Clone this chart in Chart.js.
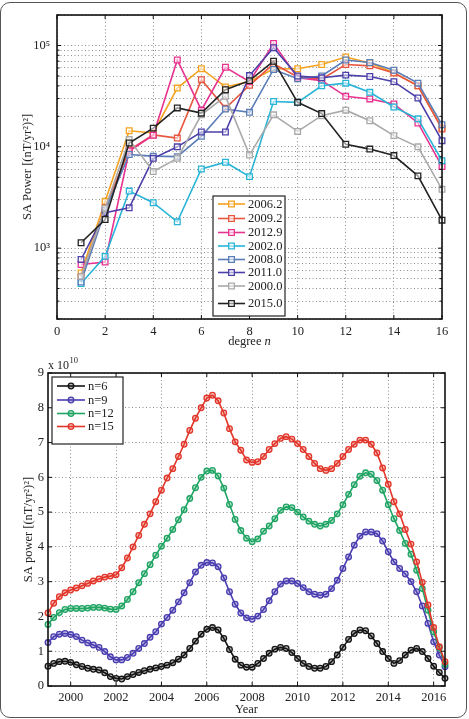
<!DOCTYPE html>
<html>
<head>
<meta charset="utf-8">
<script src="https://cdn.jsdelivr.net/npm/chart.js@4.4.1/dist/chart.umd.min.js"></script>
<style>
body { margin: 0; background: #fff; }
#wrap { position: relative; width: 469px; height: 719px; overflow: hidden; }
#frame { position: absolute; left: 0; top: 2px; width: 465px; height: 714px; border: 1.3px solid #555; border-radius: 10px; pointer-events: none; }
canvas { position: absolute; left: 0; }
#top { top: 0; }
#bottom { top: 355px; }
</style>
</head>
<body>
<div id="wrap">
  <canvas id="top" width="469" height="355"></canvas>
  <canvas id="bottom" width="469" height="364"></canvas>
  <div id="frame"></div>
</div>
<script>
// ---- top panel: SA power per degree n (log scale) ----
const degrees = [1, 2, 3, 4, 5, 6, 7, 8, 9, 10, 11, 12, 13, 14, 15, 16];
const epochLabels = ['2006.2', '2009.2', '2012.9', '2002.0', '2008.0', '2011.0', '2000.0', '2015.0'];
const s2006_2 = [570, 2900, 14400, 13700, 38000, 59000, 39000, 44000, 59000, 59000, 65000, 77000, 67000, 54000, 40000, 15300];
const s2009_2 = [520, 2500, 9300, 13100, 12200, 46000, 24000, 40500, 66000, 49000, 46500, 65000, 63000, 53500, 40000, 15000];
const s2012_9 = [690, 730, 9100, 13000, 72000, 23000, 61000, 44000, 105000, 48000, 45000, 31500, 29700, 26500, 17200, 6400];
const s2002_0 = [448, 830, 3660, 2810, 1820, 6050, 7050, 5080, 28000, 27500, 40000, 42500, 34500, 24700, 18900, 7300];
const s2008_0 = [463, 2350, 8400, 8100, 8000, 12700, 23600, 21900, 58000, 47000, 50000, 72000, 68000, 57000, 42500, 16500];
const s2011_0 = [773, 2240, 2500, 7700, 10000, 14000, 14000, 50500, 95000, 50000, 48000, 51000, 49500, 44000, 30300, 11500];
const s2000_0 = [527, 2470, 11800, 5700, 7700, 20700, 31500, 8300, 20700, 14200, 20300, 23000, 18100, 12900, 10000, 3810];
const s2015_0 = [1130, 1920, 10900, 15300, 24200, 21500, 36600, 45000, 70000, 27500, 21300, 10600, 9500, 8200, 5170, 1890];
const xTicksTop = [0, 2, 4, 6, 8, 10, 12, 14, 16];
const yMajorTicks = [1000, 10000, 100000];
const yMajorLabels = ['10³', '10⁴', '10⁵'];

// ---- bottom panel: SA power vs time (units of 1e10) ----
const years = Array.from({ length: 71 }, (_, i) => 1999 + i * 0.25);
const n6 = [0.57, 0.65, 0.70, 0.71, 0.68, 0.61, 0.56, 0.51, 0.48, 0.46,
  0.38, 0.27, 0.22, 0.20, 0.27, 0.33, 0.39, 0.44, 0.48, 0.52,
  0.56, 0.60, 0.67, 0.77, 0.89, 1.08, 1.29, 1.49, 1.63, 1.68,
  1.61, 1.37, 1.05, 0.77, 0.60, 0.54, 0.54, 0.65, 0.79, 0.94,
  1.06, 1.11, 1.08, 0.96, 0.79, 0.65, 0.56, 0.51, 0.51, 0.56,
  0.70, 0.89, 1.11, 1.34, 1.51, 1.61, 1.59, 1.44, 1.22, 0.99,
  0.79, 0.65, 0.73, 0.89, 1.03, 1.08, 0.99, 0.79, 0.57, 0.39, 0.22];
const n9 = [1.25, 1.42, 1.49, 1.51, 1.48, 1.42, 1.32, 1.24, 1.18, 1.11,
  0.99, 0.84, 0.75, 0.75, 0.82, 0.94, 1.08, 1.22, 1.40, 1.56,
  1.78, 1.97, 2.18, 2.42, 2.68, 2.97, 3.28, 3.47, 3.55, 3.54,
  3.43, 3.11, 2.71, 2.35, 2.10, 1.96, 1.92, 2.01, 2.20, 2.45,
  2.71, 2.93, 3.02, 3.02, 2.95, 2.83, 2.71, 2.64, 2.61, 2.64,
  2.80, 3.04, 3.38, 3.71, 4.05, 4.31, 4.43, 4.43, 4.38, 4.17,
  3.86, 3.57, 3.38, 3.22, 3.00, 2.71, 2.30, 1.80, 1.27, 0.89, 0.55];
const n12 = [1.77, 1.97, 2.11, 2.20, 2.23, 2.23, 2.23, 2.24, 2.26, 2.26,
  2.24, 2.21, 2.20, 2.30, 2.49, 2.71, 2.97, 3.23, 3.49, 3.76,
  4.02, 4.25, 4.50, 4.78, 5.07, 5.39, 5.70, 6.00, 6.18, 6.20,
  6.04, 5.69, 5.22, 4.79, 4.47, 4.25, 4.15, 4.23, 4.45, 4.60,
  4.81, 5.05, 5.15, 5.13, 5.00, 4.86, 4.74, 4.65, 4.60, 4.65,
  4.76, 4.95, 5.21, 5.51, 5.79, 6.03, 6.13, 6.09, 5.91, 5.63,
  5.21, 4.81, 4.47, 4.10, 3.79, 3.33, 2.80, 2.18, 1.56, 1.10, 0.62];
const n15 = [2.10, 2.38, 2.57, 2.68, 2.76, 2.82, 2.88, 2.95, 3.02, 3.08,
  3.13, 3.16, 3.20, 3.40, 3.68, 4.00, 4.33, 4.65, 4.95, 5.30,
  5.63, 5.98, 6.25, 6.60, 6.95, 7.35, 7.70, 8.00, 8.28, 8.36,
  8.20, 7.85, 7.40, 7.02, 6.78, 6.50, 6.43, 6.45, 6.60, 6.80,
  6.97, 7.12, 7.17, 7.10, 6.97, 6.80, 6.60, 6.40, 6.25, 6.20,
  6.25, 6.40, 6.60, 6.80, 6.95, 7.07, 7.07, 6.95, 6.70, 6.27,
  5.80, 5.30, 4.95, 4.50, 4.08, 3.57, 2.98, 2.33, 1.68, 1.13, 0.70];
const xTicksBottom = [2000, 2002, 2004, 2006, 2008, 2010, 2012, 2014, 2016];
const yTicksBottom = [0, 1, 2, 3, 4, 5, 6, 7, 8, 9];

const SERIF = '"Liberation Serif", "Times New Roman", serif';
const gridColor = '#8f8f8f';

// petit cadre type Matlab : boite + graduations interieures
function drawBox(chart, minorLen) {
  const { ctx, chartArea: a, scales: { x, y } } = chart;
  ctx.save();
  ctx.strokeStyle = '#111';
  ctx.lineWidth = 1;
  ctx.beginPath();
  x.ticks.forEach(t => {
    const px = x.getPixelForValue(t.value);
    ctx.moveTo(px, a.bottom); ctx.lineTo(px, a.bottom - 4);
    ctx.moveTo(px, a.top); ctx.lineTo(px, a.top + 4);
  });
  y.ticks.forEach(t => {
    const py = y.getPixelForValue(t.value);
    const len = (minorLen && yMajorTicks.indexOf(t.value) < 0) ? minorLen : 4;
    ctx.moveTo(a.left, py); ctx.lineTo(a.left + len, py);
    ctx.moveTo(a.right, py); ctx.lineTo(a.right - len, py);
  });
  ctx.stroke();
  ctx.lineWidth = 1.6;
  ctx.strokeRect(a.left, a.top, a.right - a.left, a.bottom - a.top);
  ctx.restore();
}

function drawMarker(ctx, style, x, y, r) {
  ctx.beginPath();
  if (style === 'rect') {
    const s = r * Math.SQRT1_2;
    ctx.rect(x - s, y - s, 2 * s, 2 * s);
  } else {
    ctx.arc(x, y, r, 0, Math.PI * 2);
  }
  ctx.fill();
  ctx.stroke();
}

function drawLegend(chart, box, rows, lx) {
  const ctx = chart.ctx;
  ctx.save();
  ctx.fillStyle = '#fff';
  ctx.fillRect(box.x, box.y, box.w, box.h);
  ctx.strokeStyle = '#222';
  ctx.lineWidth = 1.2;
  ctx.strokeRect(box.x, box.y, box.w, box.h);
  ctx.font = '12.5px ' + SERIF;
  ctx.textBaseline = 'middle';
  chart.data.datasets.forEach((ds, i) => {
    const yy = rows[i];
    ctx.strokeStyle = ds.borderColor;
    ctx.lineWidth = ds.borderWidth;
    ctx.beginPath();
    ctx.moveTo(lx[0], yy); ctx.lineTo(lx[1], yy);
    ctx.stroke();
    ctx.lineWidth = ds.pointBorderWidth;
    ctx.fillStyle = ds.pointBackgroundColor;
    drawMarker(ctx, ds.pointStyle, (lx[0] + lx[1]) / 2, yy, ds.pointRadius);
    ctx.fillStyle = '#222';
    ctx.fillText(ds.label, lx[2], yy + 0.5);
  });
  ctx.restore();
}

// ---------- top chart ----------
const topColors = ['#f4a21f', '#e8553e', '#e8328f', '#27b4d6', '#5a7db8', '#4b3fa8', '#a9a9a9', '#222222'];
const topSeries = [s2006_2, s2009_2, s2012_9, s2002_0, s2008_0, s2011_0, s2000_0, s2015_0];

const topDatasets = topSeries.map((vals, i) => ({
  label: epochLabels[i],
  data: degrees.map((d, k) => ({ x: d, y: vals[k] })),
  borderColor: topColors[i],
  borderWidth: 1.6,
  pointStyle: 'rect',
  pointRadius: 4,
  pointBorderWidth: 1.3,
  pointBorderColor: topColors[i],
  pointBackgroundColor: 'rgba(255,255,255,0.55)',
  tension: 0,
  clip: false,
  order: topSeries.length - i
}));

const logTicks = [];
[100, 1000, 10000, 100000].forEach(dec => {
  for (let m = 1; m <= 9; m++) {
    const v = m * dec;
    if (v >= 200 && v <= 200000) logTicks.push(v);
  }
});

new Chart(document.getElementById('top'), {
  type: 'line',
  data: { datasets: topDatasets },
  options: {
    responsive: false,
    animation: false,
    events: [],
    layout: { padding: { left: 20, right: 27, top: 15, bottom: 6 } },
    plugins: { legend: { display: false }, tooltip: { enabled: false } },
    scales: {
      x: {
        type: 'linear', min: 0, max: 16,
        afterBuildTicks: s => { s.ticks = xTicksTop.map(v => ({ value: v })); },
        afterFit: s => { s.height = 30; },
        grid: { color: gridColor, lineWidth: 1, drawTicks: false },
        border: { display: false, dash: [1, 2.5] },
        ticks: { padding: 5, color: '#222', font: { family: SERIF, size: 12.5 }, callback: v => String(v) }
      },
      y: {
        type: 'logarithmic', min: 200, max: 200000,
        afterBuildTicks: s => { s.ticks = logTicks.map(v => ({ value: v })); },
        afterFit: s => { s.width = 37; },
        grid: { color: gridColor, lineWidth: 1, drawTicks: false },
        border: { display: false, dash: [1, 2.5] },
        ticks: {
          autoSkip: false, padding: 7, color: '#222', font: { family: SERIF, size: 12.5 },
          callback: v => { const k = yMajorTicks.indexOf(v); return k >= 0 ? yMajorLabels[k] : ''; }
        },
        title: { display: true, text: 'SA Power [(nT/yr²)²]', color: '#222', padding: 0, font: { family: SERIF, size: 12.5 } }
      }
    }
  },
  plugins: [{
    id: 'topDecor',
    afterDraw(chart) {
      drawBox(chart, 2.5);
      drawLegend(chart, { x: 213, y: 196, w: 72, h: 120 },
        [204, 218.5, 232.5, 246, 259.5, 272.5, 286, 303.5], [218, 245, 248]);
      // titre axe x : "degree n" avec n en italique
      const ctx = chart.ctx;
      const a = chart.chartArea;
      ctx.save();
      ctx.fillStyle = '#222';
      ctx.textBaseline = 'middle';
      ctx.font = '12.5px ' + SERIF;
      const w1 = ctx.measureText('degree ').width;
      ctx.font = 'italic 12.5px ' + SERIF;
      const w2 = ctx.measureText('n').width;
      const x0 = (a.left + a.right) / 2 - (w1 + w2) / 2;
      ctx.font = '12.5px ' + SERIF;
      ctx.fillText('degree ', x0, 342);
      ctx.font = 'italic 12.5px ' + SERIF;
      ctx.fillText('n', x0 + w1, 342);
      ctx.restore();
    }
  }]
});

// ---------- bottom chart ----------
const botLabels = ['n=6', 'n=9', 'n=12', 'n=15'];
const botColors = ['#151515', '#4a3db0', '#1fa463', '#e2362a'];
const botFills = ['rgba(21,21,21,0.3)', 'rgba(74,61,176,0.3)', 'rgba(31,164,99,0.3)', 'rgba(226,54,42,0.3)'];
const botSeries = [n6, n9, n12, n15];

const botDatasets = botSeries.map((vals, i) => ({
  label: botLabels[i],
  data: years.map((yr, k) => ({ x: yr, y: vals[k] })),
  borderColor: botColors[i],
  borderWidth: 1.6,
  pointStyle: 'circle',
  pointRadius: 2.8,
  pointBorderWidth: 1.3,
  pointBorderColor: botColors[i],
  pointBackgroundColor: botFills[i],
  tension: 0,
  clip: false,
  order: botSeries.length - i
}));

new Chart(document.getElementById('bottom'), {
  type: 'line',
  data: { datasets: botDatasets },
  options: {
    responsive: false,
    animation: false,
    events: [],
    layout: { padding: { left: 21, right: 24, top: 18, bottom: 2 } },
    plugins: { legend: { display: false }, tooltip: { enabled: false } },
    scales: {
      x: {
        type: 'linear', min: 1999, max: 2016.5,
        afterBuildTicks: s => { s.ticks = xTicksBottom.map(v => ({ value: v })); },
        afterFit: s => { s.height = 31; },
        grid: { color: gridColor, lineWidth: 1, drawTicks: false },
        border: { display: false, dash: [1, 2.5] },
        ticks: { padding: 4, color: '#222', font: { family: SERIF, size: 12.5 }, callback: v => String(v) },
        title: { display: true, text: 'Year', color: '#222', padding: 0, font: { family: SERIF, size: 12.5 } }
      },
      y: {
        type: 'linear', min: 0, max: 9,
        afterBuildTicks: s => { s.ticks = yTicksBottom.map(v => ({ value: v })); },
        afterFit: s => { s.width = 27; },
        grid: { color: gridColor, lineWidth: 1, drawTicks: false },
        border: { display: false, dash: [1, 2.5] },
        ticks: { padding: 4, color: '#222', font: { family: SERIF, size: 12.5 }, callback: v => String(v) },
        title: { display: true, text: 'SA power [(nT/yr²)²]', color: '#222', padding: 0, font: { family: SERIF, size: 12.5 } }
      }
    }
  },
  plugins: [{
    id: 'botDecor',
    afterDraw(chart) {
      drawBox(chart, 0);
      drawLegend(chart, { x: 52, y: 22, w: 71, h: 67 }, [31, 45, 58.5, 71.5], [57, 85, 88]);
      // facteur d'echelle "x 10^10"
      const ctx = chart.ctx;
      ctx.save();
      ctx.fillStyle = '#222';
      ctx.textBaseline = 'middle';
      ctx.font = '12px ' + SERIF;
      ctx.fillText('x 10', 48, 11);
      const w = ctx.measureText('x 10').width;
      ctx.font = '8.5px ' + SERIF;
      ctx.fillText('10', 48 + w + 0.5, 6);
      ctx.restore();
    }
  }]
});
</script>
</body>
</html>
